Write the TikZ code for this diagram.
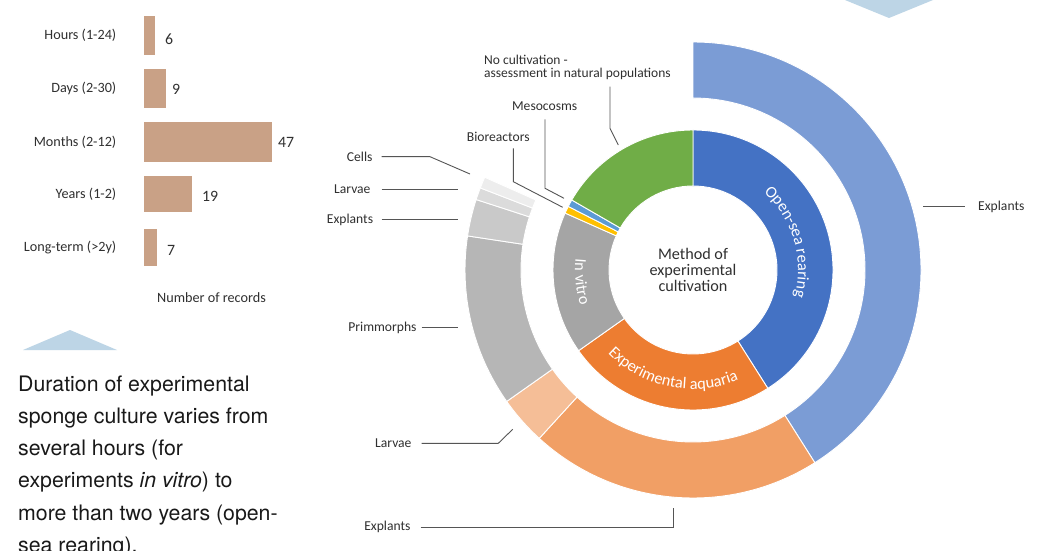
\documentclass[tikz,border=0pt]{standalone}
\usepackage{fontspec}
\setmainfont{Carlito}
\newfontfamily\helv{TeX Gyre Heros}
\usetikzlibrary{decorations.text}
\definecolor{txtc}{HTML}{303030}
\definecolor{leadc}{HTML}{555555}
\definecolor{barc}{HTML}{C9A186}
\definecolor{tric}{HTML}{BDD5E6}
\definecolor{osdark}{HTML}{4472C4}
\definecolor{oslight}{HTML}{7B9CD5}
\definecolor{aqdark}{HTML}{ED7D31}
\definecolor{aqexp}{HTML}{F19F65}
\definecolor{aqlarv}{HTML}{F5BE97}
\definecolor{ivdark}{HTML}{A5A5A5}
\definecolor{ivprim}{HTML}{B6B6B6}
\definecolor{ivexp}{HTML}{C9C9C9}
\definecolor{ivlarv}{HTML}{DBDBDB}
\definecolor{ivcell}{HTML}{EDEDED}
\definecolor{biocol}{HTML}{FFC000}
\definecolor{mesocol}{HTML}{5B9BD5}
\definecolor{nocol}{HTML}{70AD47}
\newcommand\ringseg[5]{\filldraw[fill=#5, draw=white, line width=0.9pt] (#1:#3) arc[start angle=#1, end angle=#2, radius=#3] -- (#2:#4) arc[start angle=#2, end angle=#1, radius=#4] -- cycle;}
\newcommand\ringfont{\color{white}\fontsize{16.3}{17}\selectfont}
\tikzset{
  leader/.style={draw=leadc, line width=0.9pt},
  lbl/.style={inner sep=0, text=txtc, font=\fontsize{13.6}{14}\selectfont},
  blbl/.style={inner sep=0, text=txtc, font=\fontsize{14.2}{15}\selectfont},
  vlbl/.style={inner sep=0, text=txtc, font=\fontsize{15.8}{16}\selectfont},
  barbox/.style={fill=barc},
  tri/.style={fill=tric},
}
\begin{document}
\begin{tikzpicture}[x=1pt,y=1pt]
\useasboundingbox (0,0) rectangle (1039,550);
\clip (0,0) rectangle (1039,550);
\fill[white] (0,0) rectangle (1039,550);

% ---------- bar chart ----------
\fill[barbox] (144,495) rectangle (155,534.3);
\fill[barbox] (144,441.7) rectangle (165.7,481);
\fill[barbox] (144,388) rectangle (272,428);
\fill[barbox] (144,337.7) rectangle (192,374.3);
\fill[barbox] (144,284) rectangle (157,321);
\node[blbl, anchor=base east] (lhours) at (116.5,510.5) {Hours (1-24)};
\node[blbl, anchor=base east] (ldays) at (116.5,457.1) {Days (2-30)};
\node[blbl, anchor=base east] (lmonths) at (116.5,403.8) {Months (2-12)};
\node[blbl, anchor=base east] (lyears) at (116.5,351.8) {Years (1-2)};
\node[blbl, anchor=base east] (llong) at (116.5,298.3) {Long-term (>2y)};
\node[vlbl, anchor=base west] (vhours) at (165,505.8) {6};
\node[vlbl, anchor=base west] (vdays) at (172,455) {9};
\node[vlbl, anchor=base west] (vmonths) at (278,402.5) {47};
\node[vlbl, anchor=base west] (vyears) at (202,348.8) {19};
\node[vlbl, anchor=base west] (vlong) at (167,295) {7};
\node[blbl, anchor=base] (xaxis) at (211.5,247.3) {Number of records};

% ---------- triangles ----------
\fill[tri] (23,200) -- (117,200) -- (70,220) -- cycle;
\fill[tri] (845,550) -- (933,550) -- (889,532) -- cycle;

% ---------- text block ----------
\node[anchor=base west, inner sep=0, text=black!90] (para) at (18,159) {\parbox[t]{300pt}{\raggedright\helv\fontsize{21.3}{32.3}\selectfont
Duration of experimental\\
sponge culture varies from\\
several hours (for\\
experiments \textit{in vitro}) to\\
more than two years (open-\\
sea rearing).}};

% ---------- donut ----------
\begin{scope}[shift={(693,280)}]
  % outer ring
  \ringseg{90}{-57.7}{228}{172}{oslight}
  \ringseg{-57.7}{-132.4}{228}{172}{aqexp}
  \ringseg{227.6}{215.2}{228}{172}{aqlarv}
  \ringseg{215.2}{171.4}{228}{172}{ivprim}
  \ringseg{171.4}{162}{228}{172}{ivexp}
  \ringseg{162}{158.9}{228}{172}{ivlarv}
  \ringseg{158.9}{156}{228}{172}{ivcell}
  % inner ring
  \ringseg{90}{-57.7}{140}{84}{osdark}
  \ringseg{-57.7}{-144.8}{140}{84}{aqdark}
  \ringseg{215.2}{156}{140}{84}{ivdark}
  \ringseg{156}{153}{140}{84}{biocol}
  \ringseg{153}{150}{140}{84}{mesocol}
  \ringseg{150}{90}{140}{84}{nocol}
  % curved segment names
  \path[decorate, decoration={text along path, text align=center, text={|\ringfont|Open-sea rearing}}]
    (90:105) arc[start angle=90, end angle=-57, radius=105];
  \path[decorate, decoration={text along path, text align=center, text={|\ringfont|Experimental aquaria}}]
    (-170:119) arc[start angle=-170, end angle=-33, radius=119];
  \path[decorate, decoration={text along path, text align=center, text={|\ringfont|In vitro}}]
    (150:118) arc[start angle=150, end angle=222, radius=118];
\end{scope}
\node[align=center, inner sep=0, text=txtc, font=\fontsize{16.2}{16.3}\selectfont] (title) at (693,280) {Method of\\experimental\\cultivation};

% ---------- labels ----------
\node[lbl, anchor=base east] (lcells) at (372.7,388.5) {Cells};
\node[lbl, anchor=base east] (lglarv) at (370.7,356.5) {Larvae};
\node[lbl, anchor=base east] (lgexp) at (373.3,326.5) {Explants};
\node[lbl, anchor=base east] (lprim) at (416.7,218.5) {Primmorphs};
\node[lbl, anchor=base] (lbio) at (498.3,408.2) {Bioreactors};
\node[lbl, anchor=base] (lmeso) at (544.7,439) {Mesocosms};
\node[lbl, anchor=base west] (lnocult) at (484,485) {\parbox[t]{250pt}{\raggedright\fontsize{13.5}{12.7}\selectfont No cultivation -\\assessment in natural populations}};
\node[lbl, anchor=base east] (lolarv) at (411.7,102.2) {Larvae};
\node[lbl, anchor=base east] (loexp) at (410.7,19.8) {Explants};
\node[lbl, anchor=base west] (lbexp) at (978,339.5) {Explants};

% ---------- leader lines ----------
\coordinate (cellsA) at (381.7,393.3); \coordinate (cellsB) at (430,393.3); \coordinate (cellsC) at (470,376);
\coordinate (glarvA) at (381.7,360.7); \coordinate (glarvB) at (458.3,360.7);
\coordinate (gexpA) at (381.7,330.7); \coordinate (gexpB) at (458.3,330.7);
\coordinate (primA) at (421.7,222.7); \coordinate (primB) at (458.3,222.7);
\coordinate (bioA) at (513.3,401.7); \coordinate (bioB) at (513.3,368.3); \coordinate (bioC) at (562.7,342.7);
\coordinate (mesoA) at (545,430.7); \coordinate (mesoB) at (545,361.7); \coordinate (mesoC) at (564,351.7);
\coordinate (noA) at (610,463.3); \coordinate (noB) at (610,421.7); \coordinate (noC) at (618.3,405);
\coordinate (olarvA) at (421.7,106.7); \coordinate (olarvB) at (498.3,106.7); \coordinate (olarvC) at (512.7,120.7);
\coordinate (oexpA) at (420.7,22.7); \coordinate (oexpB) at (673.3,22.7); \coordinate (oexpC) at (673.3,41.7);
\coordinate (bexpA) at (923,344); \coordinate (bexpB) at (965,344);
\draw[leader] (cellsA) -- (cellsB) -- (cellsC);
\draw[leader] (glarvA) -- (glarvB);
\draw[leader] (gexpA) -- (gexpB);
\draw[leader] (primA) -- (primB);
\draw[leader] (bioA) -- (bioB) -- (bioC);
\draw[leader] (mesoA) -- (mesoB) -- (mesoC);
\draw[leader] (noA) -- (noB) -- (noC);
\draw[leader] (olarvA) -- (olarvB) -- (olarvC);
\draw[leader] (oexpA) -- (oexpB) -- (oexpC);
\draw[leader] (bexpA) -- (bexpB);
\end{tikzpicture}
\end{document}
